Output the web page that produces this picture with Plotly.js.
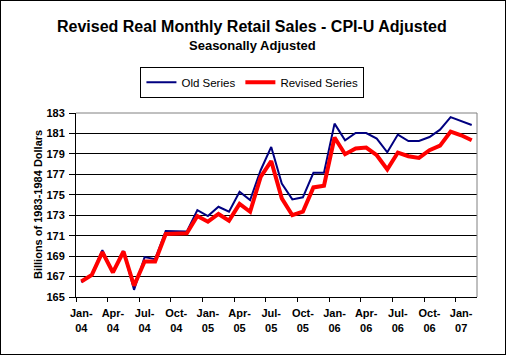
<!DOCTYPE html>
<html>
<head>
<meta charset="utf-8">
<script src="https://cdn.plot.ly/plotly-3.0.1.min.js"></script>
<style>
html,body{margin:0;padding:0;background:#fff;}
#wrap{position:absolute;left:0;top:0;width:504px;height:353px;border:1px solid #000;}
#chart{width:504px;height:353px;}
</style>
</head>
<body>
<div id="wrap"><div id="chart"></div></div>
<script>
const months = ["Jan-04","Feb-04","Mar-04","Apr-04","May-04","Jun-04","Jul-04","Aug-04","Sep-04","Oct-04","Nov-04","Dec-04",
  "Jan-05","Feb-05","Mar-05","Apr-05","May-05","Jun-05","Jul-05","Aug-05","Sep-05","Oct-05","Nov-05","Dec-05",
  "Jan-06","Feb-06","Mar-06","Apr-06","May-06","Jun-06","Jul-06","Aug-06","Sep-06","Oct-06","Nov-06","Dec-06",
  "Jan-07","Feb-07"];
const oldSeries = [166.45,167.2,169.58,167.4,169.5,165.7,168.9,168.7,171.46,171.4,171.4,173.5,
  172.92,173.83,173.34,175.3,174.48,177.4,179.68,176.1,174.55,174.75,177.15,177.15,
  181.96,180.33,181.04,181.04,180.5,179.16,180.89,180.26,180.26,180.65,181.37,182.6,
  182.21,181.82];
const revisedSeries = [166.52,167.17,169.39,167.4,169.45,166.1,168.47,168.47,171.17,171.17,171.24,172.92,
  172.37,173.12,172.47,174.1,173.34,176.75,178.3,174.65,173.0,173.34,175.72,175.88,
  180.6,178.97,179.52,179.62,178.87,177.48,179.13,178.77,178.6,179.36,179.81,181.18,
  180.82,180.33];
const tickIdx = [0,3,6,9,12,15,18,21,24,27,30,33,36];
const tickLabels = tickIdx.map(i => months[i].replace("-", "-<br>"));
const yTicks = [165,167,169,171,173,175,177,179,181,183];

const xIdx = months.map((m,i)=>i);
const boundaries = tickIdx.map(i => i - 0.5);

const font = "Arial, 'Liberation Sans', sans-serif";

const traces = [
  {x: xIdx, y: oldSeries, type: "scatter", mode: "lines", name: "Old Series",
   line: {color: "#000080", width: 2}},
  {x: xIdx, y: revisedSeries, type: "scatter", mode: "lines", name: "Revised Series",
   line: {color: "#ff0000", width: 4}},
  {x: [boundaries[0]], y: [165], xaxis: "x2", type: "scatter", mode: "markers",
   marker: {opacity: 0}, showlegend: false, hoverinfo: "skip"}
];

const layout = {
  width: 504, height: 353,
  margin: {l: 75, r: 28, t: 111.7, b: 56.7},
  paper_bgcolor: "#fff", plot_bgcolor: "#fff",
  font: {family: font, color: "#000"},
  showlegend: true,
  legend: {orientation: "h", x: 0.44, xanchor: "center", y: 1.252, yanchor: "top",
    bordercolor: "#000", borderwidth: 1, font: {size: 11.5, family: font},
    itemwidth: 30, tracegroupgap: 0, bgcolor: "#fff"},
  xaxis: {range: [-0.5, 37.5], tickmode: "array", tickvals: tickIdx, ticktext: tickLabels,
    ticks: "", showgrid: false, zeroline: false, showline: true, linecolor: "#000", linewidth: 1,
    tickfont: {size: 11, family: font, weight: "bold"}, ticklabelstandoff: 6, fixedrange: true},
  xaxis2: {range: [-0.5, 37.5], overlaying: "x", tickmode: "array", tickvals: boundaries,
    showticklabels: false, ticks: "outside", ticklen: 4, tickcolor: "#000", tickwidth: 1,
    showgrid: false, zeroline: false, showline: false},
  yaxis: {range: [165, 183], tickmode: "array", tickvals: yTicks, ticks: "outside", ticklen: 6,
    tickcolor: "#000", showgrid: true, gridcolor: "#000", gridwidth: 1, zeroline: false,
    showline: true, linecolor: "#000", linewidth: 1,
    tickfont: {size: 11, family: font, weight: "bold"}, ticklabelstandoff: 2, fixedrange: true},
  shapes: [
    {type: "line", xref: "paper", yref: "paper", x0: 0, x1: 1, y0: 1, y1: 1, line: {color: "#808080", width: 1}},
    {type: "line", xref: "paper", yref: "paper", x0: 1, x1: 1, y0: 0, y1: 1, line: {color: "#808080", width: 1}}
  ],
  annotations: [
    {text: "Revised Real Monthly Retail Sales - CPI-U Adjusted", xref: "paper", yref: "paper",
     x: 0.44, y: 1 + (111.7-25)/184.6, xanchor: "center", yanchor: "middle", showarrow: false,
     font: {size: 16, family: font, weight: "bold"}},
    {text: "Seasonally Adjusted", xref: "paper", yref: "paper",
     x: 0.44, y: 1 + (111.7-44)/184.6, xanchor: "center", yanchor: "middle", showarrow: false,
     font: {size: 13, family: font, weight: "bold"}},
    {text: "Billions of 1983-1984 Dollars", xref: "paper", yref: "paper",
     x: (37-75)/401, y: 0.5, xanchor: "center", yanchor: "middle", textangle: -90, showarrow: false,
     font: {size: 11, family: font, weight: "bold"}}
  ]
};

Plotly.newPlot("chart", traces, layout, {displayModeBar: false, staticPlot: true});
</script>
</body>
</html>
